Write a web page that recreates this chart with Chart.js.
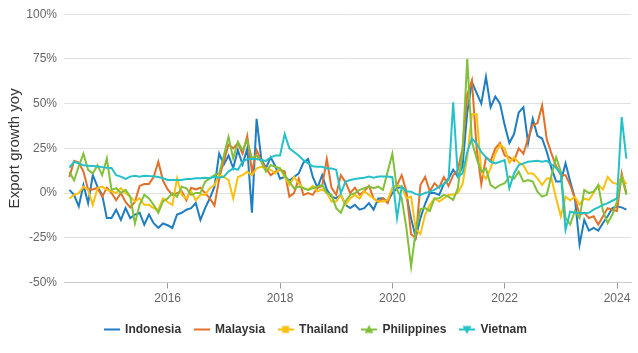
<!DOCTYPE html>
<html><head><meta charset="utf-8">
<script src="https://cdn.jsdelivr.net/npm/chart.js@4.4.1/dist/chart.umd.min.js"></script>
<style>html,body{margin:0;padding:0;background:#fff;}#wrap{width:638px;height:353px;}</style>
</head><body><div id="wrap"><canvas id="c" width="638" height="353"></canvas></div>
<script>
const startYear = 2014, startMonth = 4;
const indonesia = [1.8,-1,-7.5,4.5,-5.6,10,3.6,-1,-14,-14,
 -9.3,-15,-8.4,-14,-12,-11,-17.7,-12,-16.8,-19.5,
 -17,-18,-19.5,-12,-11,-9.3,-8.4,-5.6,-15,-8.4,
 -2.9,3.6,22,16,21,14,24,16,25,-11,
 41.5,19,14,20,15,8,9,7,9,11,
 17,19,9,3,10,2,-2,-3,-1,-6.6,
 -8.4,-6.6,-9.3,-8.4,-5.6,-9.3,-3,-2.9,-4.7,0,
 2.7,3.6,-1,-14,-25,-14,-6,0,0,-1,
 5,8,13,9,15,45,62,56,50,65,
 48,54,50,38,28,33,45,48,28,41.5,
 32,30.5,23,13.8,6.4,6.4,16.6,6.4,-3,-28.8,
 -15,-21,-19.5,-21,-16.7,-13,-8.4,-7.5,-8,-9.3];
const malaysia = [9,18,17,12,2,2,3,-2,3,0,
 -4,0,-5,-8,-5,4,5,5,9,17.5,
 7,2,-1,0,1,-4,3,2,3,0,
 -3,-7,8,18,27,25,28,22,32,12,
 24,18,14,10,12,13,12,-2,0,8,
 -1,0,-1,3,4,19,3,-1,10,6,
 0,3,-1,1,4,-3,-5,-3,-5.6,2.7,
 4.5,10,1,-23,-25,4.5,9,1,5.5,3,
 9,4,10,13,25,55,63,25,5,20,
 18,25,28,21,20,18,25,22,30.5,38,
 39,49,30,22,15,10,10,4.5,-3,-12,
 -11,-14,-13,-17.7,-13,-8.4,-9.3,-10,11,0];
const thailand = [-3,-1,0,3.6,1.8,-6.6,2.7,3.6,1.8,1,
 0,2.7,0,-2,-4.7,-3,-6.6,-6.6,-8.4,-9.3,
 -3,-5,-6.6,8.2,-1,-3,1,-4,-1,-1,
 2.7,4.5,10,9,7.3,-3,9,10,12,10,
 13.8,14.7,13.8,13,11,13.8,9,4.5,9,5.5,
 2.7,1.8,4,1,2,0,-4.7,-4.7,-1,-6.6,
 -3,-1,-3,1,-1,-3,-4.7,-4.7,-3.8,2.7,
 4.5,3.6,-2.9,-2,-20,-23,-12,-6.6,-3,-4.7,
 -3,-1,-1,0,5,20,44,44,12,8,
 14,22,27,25,17,20,17,15.6,11,11,
 8.2,4.5,8.2,8.2,-3,-13,-2,-4,-2,-6.4,
 -3,-3.8,0,4.5,2,9,6,5,9,5];
const philippines = [12,7,15,22,13,11,15.6,10,19.3,1.8,
 2.7,0,1.8,-2,-17,-6.6,-1,-3,-6.6,-11,
 -4.7,-3,0,-2,3.6,2.7,-1,0,0,6.4,
 8.2,10,11,21,31.4,19.4,28.6,24,29.5,19.4,
 21,17.5,12,15.6,14.7,13.8,10,6.4,2.7,3.6,
 2.7,1.8,2.7,3.6,4.5,0,-1,-8.4,-11,-4.7,
 -1,0,1.8,2.7,3.6,2.7,3.6,1.8,12,22,
 1.8,-2.9,-19.5,-41,-21,-9,-8.4,-10,-3,-2.9,
 -1,-2,-3.8,2.7,23,75,28.6,19.4,12,13.8,
 4.5,2.7,4.5,5.5,9.2,8,12,6.4,7.3,6.4,
 0.8,-2,-1,10,20,12,-14,-17.5,-10,-14,
 1.8,0,0.8,4.5,-10,-16.8,-12,-4.7,9.2,-1];
const vietnam = [14.2,17.5,16.6,15.6,15.3,15.1,14.9,14.5,14.2,14,
 10,9.2,7.9,9.2,9.7,9.2,9.7,9.5,9.4,9,
 8.3,7.3,7.3,7.3,7.3,7.9,7.9,8.3,8.3,8.6,
 8.3,9.2,8.6,9.2,12,13.8,13,17.5,19,19,
 19,18.5,18,20,21,21,33,25,23,21,
 18.4,16.6,15,14.7,14.7,13.8,13.8,13,0,6.4,
 7.3,7.9,8.3,8.6,9.2,8.6,9.2,9.2,9.2,8.9,
 -14,3.6,1,0.8,-0.6,-1,0,0.8,1.8,3.6,
 5,7.3,50.8,9.2,11,23,30.5,27.7,23,20,
 17.5,16.6,17.5,18.4,2.7,11,15.6,16.6,17.5,17.8,
 18,17.5,18,16,14,11,-20.5,-10.3,-11,-11.2,
 -11.2,-11,-9.3,-8,-6.6,-5.6,-4.3,-3,42.5,19.3];

// categories: months
const months = [];
for (let i = 0; i < indonesia.length; i++) {
  const m = startMonth - 1 + i;
  months.push((startYear + Math.floor(m / 12)) + '-' + String(m % 12 + 1).padStart(2, '0'));
}
const tickLabels = ['2016', '2018', '2020', '2022', '2024'];
const yTickValues = [-50, -25, 0, 25, 50, 75, 100];
const seriesNames = ['Indonesia', 'Malaysia', 'Thailand', 'Philippines', 'Vietnam'];
const seriesValues = [indonesia, malaysia, thailand, philippines, vietnam];
const colors = ['#1f7dc0', '#e2702a', '#f9c012', '#80c03a', '#25c1c8'];
const markers = ['none', 'none', 'square', 'triangle', 'triangleDown'];

function monthToX(lbl) { const [y, m] = lbl.split('-').map(Number); return y + (m - 1) / 12; }

function makeIcon(color, marker) {
  const c = document.createElement('canvas');
  c.width = 16; c.height = 12;
  const g = c.getContext('2d');
  g.strokeStyle = color; g.lineWidth = 2;
  g.beginPath(); g.moveTo(0, 6); g.lineTo(16, 6); g.stroke();
  g.fillStyle = color;
  if (marker === 'square') { g.fillRect(4.5, 2.5, 7, 7); }
  else if (marker === 'triangle') { g.beginPath(); g.moveTo(8, 1.5); g.lineTo(12.5, 9.5); g.lineTo(3.5, 9.5); g.closePath(); g.fill(); }
  else if (marker === 'triangleDown') { g.beginPath(); g.moveTo(8, 10.5); g.lineTo(12.5, 2.5); g.lineTo(3.5, 2.5); g.closePath(); g.fill(); }
  return c;
}
const icons = colors.map((c, i) => makeIcon(c, markers[i]));

Chart.defaults.font.family = "'Liberation Sans', Arial, Helvetica, sans-serif";

const datasets = seriesNames.map((name, k) => ({
  label: name,
  data: months.map((mo, i) => ({ x: monthToX(mo), y: seriesValues[k][i] })),
  borderColor: colors[k],
  backgroundColor: colors[k],
  borderWidth: 2,
  pointRadius: 0,
  tension: 0,
  fill: false,
  order: 5 - k
}));

new Chart(document.getElementById('c'), {
  type: 'line',
  data: { datasets },
  options: {
    responsive: false,
    animation: false,
    devicePixelRatio: 1,
    layout: { padding: { left: 0, right: 7, top: 12, bottom: 7.5 } },
    scales: {
      x: {
        type: 'linear',
        min: 2014.154, max: 2024.249,
        afterBuildTicks: s => { s.ticks = tickLabels.map(t => ({ value: Number(t) })); },
        ticks: { callback: (v, i) => tickLabels[i], color: '#666', font: { size: 12 }, padding: 3, maxRotation: 0, autoSkip: false },
        grid: { drawOnChartArea: false, drawTicks: true, tickLength: 6, color: '#999' },
        border: { display: true, color: '#ccc' },
        afterFit: s => { s.height = 28; }
      },
      y: {
        min: -50, max: 100,
        afterBuildTicks: s => { s.ticks = yTickValues.map(v => ({ value: v })); },
        ticks: { callback: v => v + '%', color: '#666', font: { size: 12 }, padding: 7 },
        grid: { color: '#e0e0e0', drawTicks: false },
        border: { display: false },
        title: { display: true, text: 'Export growth yoy', color: '#333', font: { size: 15 }, padding: { top: 6, bottom: 0 } },
        afterFit: s => { s.width = 64; }
      }
    },
    plugins: {
      legend: {
        position: 'bottom',
        labels: {
          usePointStyle: true,
          pointStyleWidth: 15,
          padding: 13,
          color: '#333',
          font: { size: 12, weight: 'bold' },
          generateLabels: chart => chart.data.datasets.map((ds, i) => ({
            text: ds.label, pointStyle: icons[i], fillStyle: ds.borderColor,
            strokeStyle: ds.borderColor, lineWidth: 0, hidden: false, datasetIndex: i, fontColor: '#333'
          }))
        }
      },
      tooltip: { enabled: false }
    }
  }
});
</script></body></html>
